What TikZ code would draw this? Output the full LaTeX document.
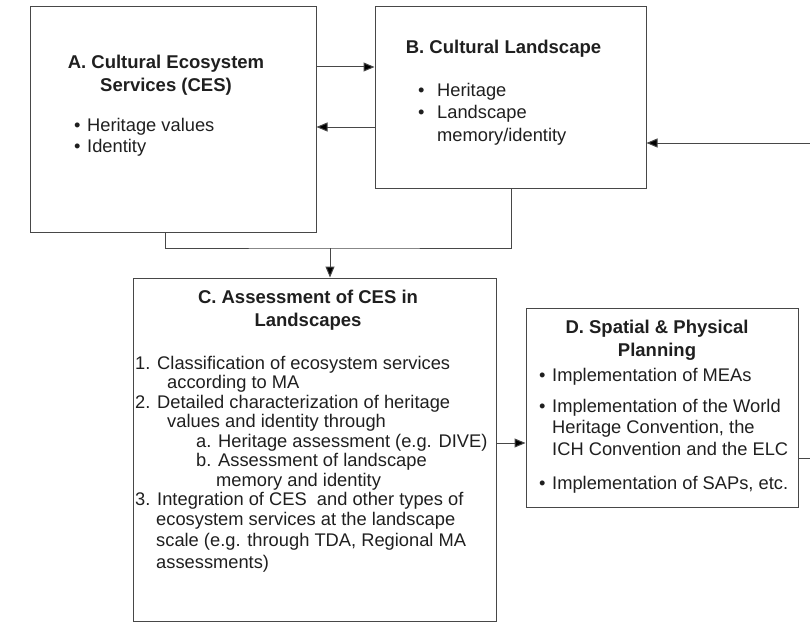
\documentclass[tikz,border=0pt]{standalone}
\usepackage{fontspec}
\setmainfont{Liberation Sans}
\usetikzlibrary{positioning, arrows.meta, calc}

\newcommand{\bul}[1]{\makebox[#1][l]{\textbullet}}

\begin{document}
\begin{tikzpicture}[x=1pt, y=-1pt,
  box/.style={draw=black!72, line width=1pt, rectangle, inner sep=0pt},
  title/.style={font=\fontsize{18.5}{23}\selectfont\bfseries, align=center, anchor=north, inner sep=0pt, text=black!88},
  body/.style={font=\fontsize{18.3}{21}\selectfont, align=left, anchor=north west, inner sep=0pt, text=black!88},
  arrow/.style={-{Triangle[length=11pt, width=9pt, fill=black]}, draw=black!72, line width=1pt},
  link/.style={draw=black!72, line width=1pt}
]
  \useasboundingbox (0,0) rectangle (810,623);

  % boxes
  \node[box, minimum width=286pt, minimum height=225pt] (ces)    at (173,119.5) {};
  \node[box, minimum width=271pt, minimum height=181pt] (land)   at (510.5,97.5) {};
  \node[box, minimum width=363pt, minimum height=343pt] (assess) at (314.5,449.5) {};
  \node[box, minimum width=272pt, minimum height=199pt] (plan)   at (662,407.5) {};

  % texts
  \node[title] (cestitle) at (166,55) {A. Cultural Ecosystem\\Services (CES)};
  \node[body] (cesitems) at (74,118) {\bul{13pt}Heritage values\\\bul{13pt}Identity};

  \node[title] (landtitle) at (503.5,40) {B. Cultural Landscape};
  \node[body, font=\fontsize{18.3}{22.5}\selectfont] (landitems) at (418,83)
    {\bul{19pt}Heritage\\\bul{19pt}Landscape\\\hspace*{19pt}memory/identity};

  \node[title] (assesstitle) at (308,290) {C. Assessment of CES in\\Landscapes};
  \node[body, font=\fontsize{18.3}{19.5}\selectfont] (assessitems) at (135,356)
    {1. Classification of ecosystem services\\
     \hspace*{32pt}according to MA\\
     2. Detailed characterization of heritage\\
     \hspace*{32pt}values and identity through\\
     \hspace*{61pt}a. Heritage assessment (e.g. DIVE)\\
     \hspace*{61pt}b. Assessment of landscape\\
     \hspace*{81pt}memory and identity\\
     3. Integration of CES\ \ and other types of\\
     \hspace*{21pt}ecosystem services at the landscape\\[1.5pt]
     \hspace*{21pt}scale (e.g. through TDA, Regional MA\\[3pt]
     \hspace*{21pt}assessments)};

  \node[title] (plantitle) at (657,320) {D. Spatial \& Physical\\Planning};
  \node[body, font=\fontsize{18.3}{21.5}\selectfont] (planitems) at (539,368)
    {\bul{13pt}Implementation of MEAs\\[9.5pt]
     \bul{13pt}Implementation of the World\\
     \hspace*{13pt}Heritage Convention, the\\
     \hspace*{13pt}ICH Convention and the ELC\\[12.5pt]
     \bul{13pt}Implementation of SAPs, etc.};

  % connectors
  \coordinate (rightin)  at (810,143);
  \coordinate (join)     at (330,248);
  \coordinate (rightout) at (810,458);

  \draw[arrow] (ces.east |- 0,67) -- (land.west |- 0,67);
  \draw[arrow] (land.west |- 0,127) -- (ces.east |- 0,127);
  \draw[arrow] (rightin) -- (land.east |- rightin);
  \draw[link] (ces.south -| 165,0) |- (join) -| (land.south -| 511,0);
  \draw[arrow] (join) -- (join |- assess.north);
  \draw[arrow] (assess.east |- 0,443) -- (plan.west |- 0,443);
  \draw[link] (plan.east |- rightout) -- (rightout);
\end{tikzpicture}
\end{document}
